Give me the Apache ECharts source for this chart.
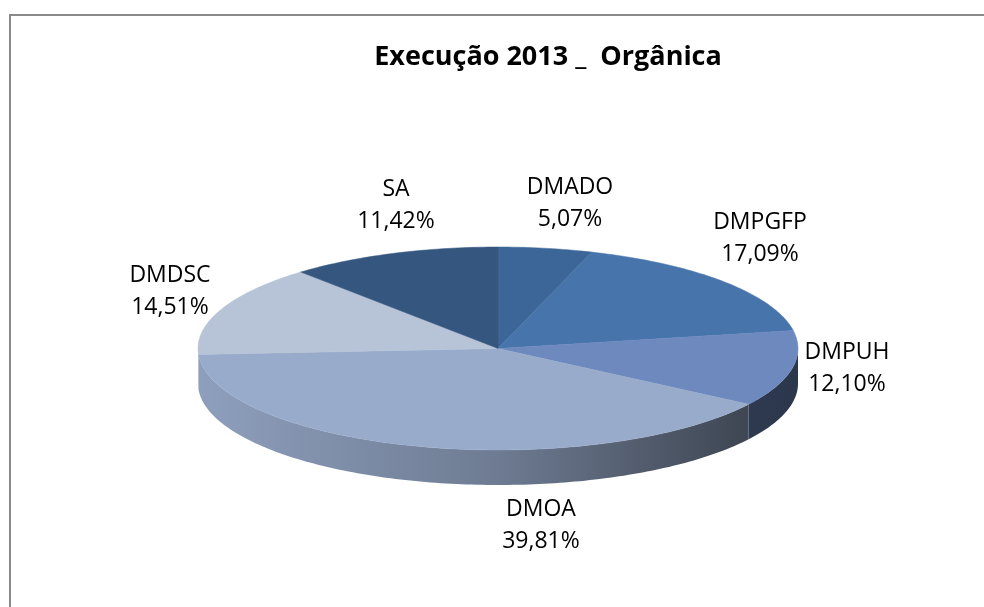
<!DOCTYPE html>
<html>
<head>
<meta charset="utf-8">
<script src="https://cdn.jsdelivr.net/npm/echarts@6/dist/echarts.min.js"></script>
<style>
  html, body { margin: 0; padding: 0; background: #fff; }
  #chart-container { width: 984px; height: 607px; }
</style>
</head>
<body>
<div id="chart-container"></div>
<script>
// dados (sentido horario a partir do topo)
var categories = ["DMADO", "DMPGFP", "DMPUH", "DMOA", "DMDSC", "SA"];
var shares = [5.07, 17.09, 12.1, 39.81, 14.51, 11.42];
var sliceColors = ["#3d6698", "#4674ab", "#6d89bd", "#99abcb", "#b7c3d7", "#34567f"];

// layout do "pie 3D"
var cx = 498, cy = 348.5, rx = 300, ry = 101.5, depth = 35;
var labelXY = [[570, 203], [760, 238], [847, 368], [541, 525], [170, 291], [396, 205]];

var total = shares.reduce(function (a, b) { return a + b; }, 0);
var starts = [];
var acc = 0;
shares.forEach(function (v) {
  starts.push(acc);
  acc += v;
});

function shade(hex, f) {
  var n = parseInt(hex.slice(1), 16);
  var r = Math.round(((n >> 16) & 255) * f);
  var g = Math.round(((n >> 8) & 255) * f);
  var b = Math.round((n & 255) * f);
  return "rgb(" + r + "," + g + "," + b + ")";
}

function pt(deg, dy) {
  var t = (deg * Math.PI) / 180;
  return [cx + rx * Math.sin(t), cy - ry * Math.cos(t) + (dy || 0)];
}

function arc(a1, a2, dy) {
  var pts = [];
  var n = Math.max(2, Math.ceil(Math.abs(a2 - a1)));
  for (var k = 0; k <= n; k++) {
    pts.push(pt(a1 + ((a2 - a1) * k) / n, dy));
  }
  return pts;
}

function renderItem(params, api) {
  var i = params.dataIndex;
  var a1 = (starts[i] / total) * 360;
  var a2 = a1 + (api.value(0) / total) * 360;
  var base = sliceColors[i];
  var children = [];

  // lateral
  var s1 = Math.max(a1, 90), s2 = Math.min(a2, 270);
  if (s2 > s1) {
    var side = arc(s1, s2, 0).concat(arc(s2, s1, depth));
    children.push({
      type: "polygon",
      shape: { points: side },
      style: {
        fill: {
          type: "linear", x: cx - rx, y: 0, x2: cx + rx, y2: 0, global: true,
          colorStops: [
            { offset: 0, color: shade(base, 0.93) },
            { offset: 0.5, color: shade(base, 0.72) },
            { offset: 0.9, color: shade(base, 0.42) },
            { offset: 1, color: shade(base, 0.4) },
          ],
        },
      },
    });
  }

  // topo
  children.push({
    type: "polygon",
    shape: { points: [[cx, cy]].concat(arc(a1, a2, 0)) },
    style: { fill: base, stroke: base, lineWidth: 0.5 },
  });

  children.push({
    type: "text",
    style: {
      text: categories[i] + "\n" + api.value(0).toFixed(2).replace(".", ",") + "%",
      x: labelXY[i][0],
      y: labelXY[i][1],
      align: "center",
      verticalAlign: "middle",
      fontFamily: "Open Sans",
      fontSize: 23,
      lineHeight: 32,
      fill: "#000",
    },
  });

  return { type: "group", children: children };
}

var dom = document.getElementById("chart-container");
var myChart = echarts.init(dom, null, { renderer: "canvas" });

var option = {
  animation: false,
  backgroundColor: "#fff",
  title: {
    text: "Execução 2013 _  Orgânica",
    left: 548,
    top: 44,
    padding: 0,
    textAlign: "center",
    textStyle: {
      fontFamily: "Open Sans",
      fontWeight: "bold",
      fontSize: 27,
      color: "#000",
    },
  },
  graphic: [
    {
      type: "rect",
      shape: { x: 10, y: 15, width: 1000, height: 700 },
      style: { fill: null, stroke: "#8a8a8a", lineWidth: 2 },
      silent: true,
    },
  ],
  series: [
    {
      type: "custom",
      coordinateSystem: "none",
      renderItem: renderItem,
      data: shares.map(function (v, i) {
        return { name: categories[i], value: v };
      }),
    },
  ],
};

myChart.setOption(option);
window.addEventListener("resize", myChart.resize);
</script>
</body>
</html>
